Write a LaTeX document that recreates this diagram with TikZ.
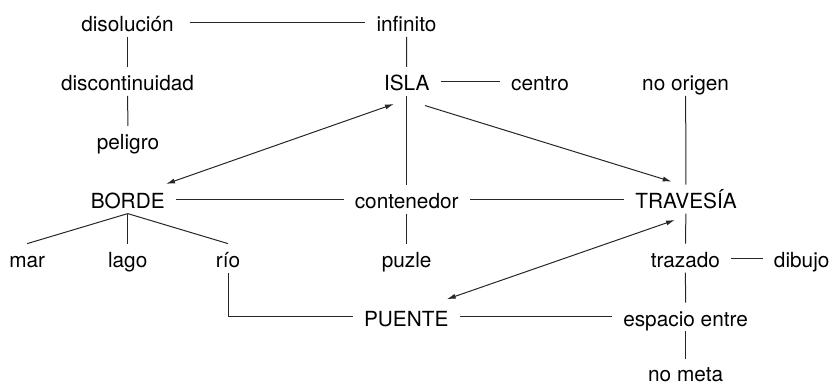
\documentclass[tikz,border=0pt]{standalone}
\usepackage{fontspec}
\setmainfont{TeX Gyre Heros}
\usetikzlibrary{arrows.meta,calc}
\begin{document}
\begin{tikzpicture}[x=1pt,y=-1pt,
  term/.style={anchor=base,inner xsep=11pt,inner ysep=0pt,text height=23.5pt,text depth=5pt,
    font=\fontsize{20.8}{25}\selectfont},
  link/.style={draw=black!85,line width=1pt},
  tip/.style={link,-{Latex[length=9pt,width=5pt]}},
  tips/.style={link,{Latex[length=9pt,width=5pt]}-{Latex[length=9pt,width=5pt]}}]
\useasboundingbox (0,0) rectangle (838,386);
% row baselines: 31.7, 90.6, 149.5, 208.4, 267.3, 326.2, 385
\node[term] (disol) at (127.5,31.7) {disolución};
\node[term] (infin) at (406.5,31.7) {infinito};
\node[term] (discon) at (127.5,90.6) {discontinuidad};
\node[term] (isla) at (406.7,90.6) {ISLA};
\node[term] (centro) at (540,90.6) {centro};
\node[term] (norig) at (685.6,90.6) {no origen};
\node[term] (pelig) at (128,149.5) {peligro};
\node[term] (borde) at (127.7,208.4) {BORDE};
\node[term] (conten) at (406.7,208.4) {contenedor};
\node[term] (trav) at (686,208.4) {TRAVESÍA};
\node[term] (mar) at (27.2,267.3) {mar};
\node[term] (lago) at (127.7,267.3) {lago};
\node[term] (rio) at (228,267.3) {río};
\node[term] (puzle) at (406.7,267.3) {puzle};
\node[term] (traz) at (685.4,267.3) {trazado};
\node[term] (dibujo) at (801.7,267.3) {dibujo};
\node[term] (puente) at (406.2,326.2) {PUENTE};
\node[term] (espac) at (685.6,326.2) {espacio entre};
\node[term,text depth=0pt] (nometa) at (685.6,381) {no meta};

\draw[link,shorten <=5pt] (disol) -- (infin);
\draw[link] (disol) -- (discon);
\draw[link] (discon) -- (pelig);
\draw[link] (infin) -- (isla);
\draw[link] (isla) -- (centro);
\draw[link] (isla) -- (conten);
\draw[link] (norig) -- (trav);
\draw[link] (borde) -- (conten);
\draw[link] (conten) -- (trav);
\draw[link] (conten) -- (puzle);
\draw[link] (borde.south) -- (mar.north);
\draw[link] (borde.south) -- (lago.north);
\draw[link] (borde.south) -- (rio.north);
\draw[link] (trav) -- (traz);
\draw[link] (traz) -- (dibujo);
\draw[link] (traz) -- (espac);
\draw[link] (espac) -- ([yshift=-2pt]nometa.north);
\draw[link] (puente) -- (espac);
\draw[link] (rio.south) |- (puente.west);

\draw[tips] ($(isla.center)+(-12.7,22.6)$) -- ($(borde.center)+(38.3,-15.2)$);
\draw[tip] ($(isla.center)+(18.3,24.2)$) -- ($(trav.center)+(-14.3,-17.5)$);
\draw[tips] ($(trav.center)+(-11,20.8)$) -- ($(puente.center)+(40.5,-17.7)$);
\end{tikzpicture}
\end{document}
